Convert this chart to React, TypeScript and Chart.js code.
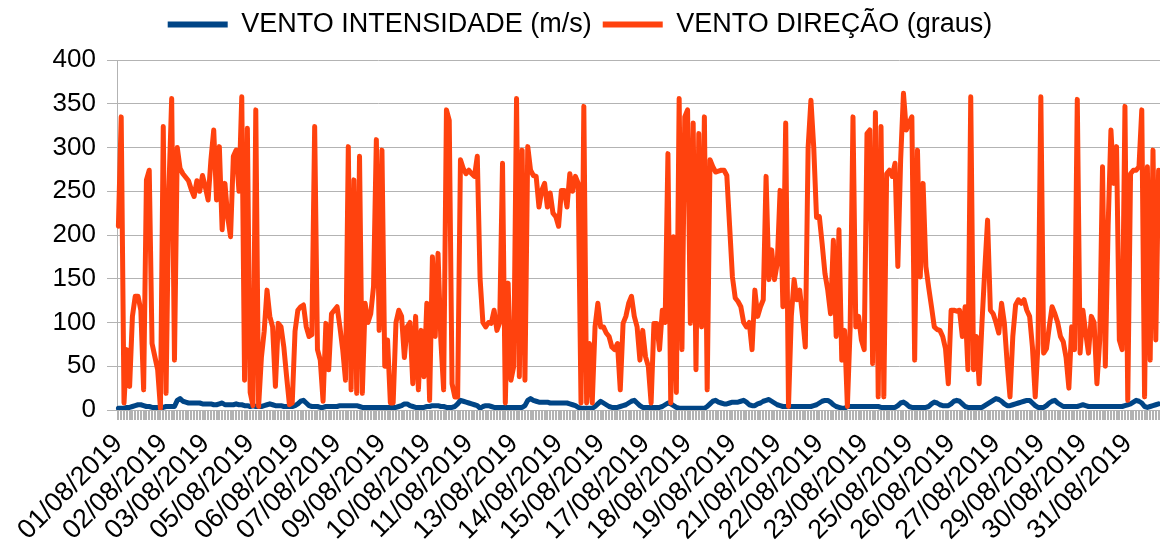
import React, { useEffect, useRef } from 'react';
import { Chart, registerables } from 'chart.js';

Chart.register(...registerables);

const DAYS = ['01', '02', '03', '04', '05', '06', '07', '08', '09', '10', '11', '12', '13', '14', '15', '16',
  '17', '18', '19', '20', '21', '22', '23', '24', '25', '26', '27', '28', '29', '30', '31'];
const HOURS = ['00:00', '02:00', '04:00', '06:00', '08:00', '10:00', '12:00', '14:00', '16:00', '18:00', '20:00', '22:00'];
const CATEGORIES: string[] = DAYS.flatMap((d) => HOURS.map((h) => `${d}/08/2019 ${h}`));

// Axis labels as printed under the axis
const TICK_LABELS = ['01/08/2019', '02/08/2019', '03/08/2019', '05/08/2019', '06/08/2019', '07/08/2019',
  '09/08/2019', '10/08/2019', '11/08/2019', '13/08/2019', '14/08/2019', '15/08/2019', '17/08/2019',
  '18/08/2019', '19/08/2019', '21/08/2019', '22/08/2019', '23/08/2019', '25/08/2019', '26/08/2019',
  '27/08/2019', '29/08/2019', '30/08/2019', '31/08/2019'];
const LABEL_STEP = 15.65; // categories between printed labels
const Y_TICKS = [0, 50, 100, 150, 200, 250, 300, 350, 400];

// VENTO INTENSIDADE (m/s) - one row per day, every 2 hours
const VENTO_INTENSIDADE = [
  2, 2, 2, 3, 3, 4, 5, 6, 6, 5, 4, 4,
  3, 3, 3, 3, 3, 4, 4, 4, 4, 11, 13, 10,
  9, 8, 8, 8, 8, 8, 7, 7, 7, 7, 6, 6,
  7, 8, 6, 6, 6, 6, 7, 6, 6, 5, 5, 4,
  5, 4, 4, 4, 5, 6, 7, 6, 5, 5, 5, 4,
  4, 4, 4, 5, 7, 10, 11, 8, 5, 4, 4, 4,
  3, 3, 4, 4, 4, 4, 4, 5, 5, 5, 5, 5,
  5, 5, 4, 3, 3, 3, 3, 3, 3, 3, 3, 3,
  3, 3, 3, 3, 4, 5, 7, 7, 5, 4, 3, 3,
  3, 3, 4, 4, 5, 5, 5, 4, 4, 3, 3, 3,
  4, 7, 11, 10, 9, 8, 7, 6, 5, 2, 4, 5,
  5, 4, 3, 3, 3, 3, 3, 3, 3, 3, 3, 3,
  3, 5, 11, 13, 11, 10, 9, 9, 9, 9, 8, 8,
  8, 8, 8, 8, 8, 7, 6, 5, 3, 2, 2, 2,
  2, 2, 4, 7, 10, 8, 6, 4, 3, 3, 3, 4,
  5, 6, 8, 10, 11, 8, 5, 3, 3, 3, 3, 3,
  3, 3, 4, 6, 8, 7, 5, 3, 2, 2, 2, 2,
  2, 2, 2, 2, 2, 2, 4, 7, 10, 11, 9, 8,
  7, 7, 8, 9, 9, 9, 10, 11, 9, 6, 5, 5,
  7, 8, 10, 11, 12, 10, 8, 6, 5, 4, 4, 4,
  4, 4, 4, 4, 4, 4, 4, 4, 5, 6, 8, 10,
  11, 11, 9, 6, 4, 3, 2, 2, 4, 4, 4, 4,
  4, 4, 4, 4, 4, 4, 4, 4, 3, 3, 3, 3,
  3, 3, 5, 8, 9, 7, 4, 3, 3, 3, 3, 3,
  3, 4, 7, 9, 8, 6, 5, 5, 5, 7, 10, 11,
  10, 7, 4, 3, 3, 3, 3, 3, 3, 5, 7, 9,
  11, 13, 12, 10, 7, 5, 5, 6, 7, 8, 9, 10,
  11, 11, 8, 5, 3, 3, 3, 5, 8, 10, 11, 8,
  6, 4, 4, 4, 4, 4, 4, 5, 6, 5, 4, 4,
  4, 4, 4, 4, 4, 4, 4, 4, 4, 4, 4, 5,
  6, 7, 9, 11, 10, 8, 4, 3, 4, 5, 6, 7,
];

// VENTO DIREÇÃO (graus) - one row per day, every 2 hours
const VENTO_DIRECAO = [
  210, 335, 8, 69, 27, 107, 130, 130, 114, 23, 263, 274,
  76, 61, 46, 2, 324, 19, 251, 356, 57, 300, 276, 270,
  266, 262, 252, 244, 262, 250, 268, 255, 240, 286, 320, 240,
  301, 206, 259, 220, 198, 290, 297, 250, 358, 34, 322, 20,
  5, 343, 4, 60, 90, 137, 107, 95, 27, 99, 95, 72,
  38, 6, 8, 90, 114, 118, 120, 95, 84, 86, 324, 69,
  57, 10, 99, 46, 110, 114, 118, 95, 69, 34, 301, 23,
  263, 19, 290, 19, 122, 100, 110, 141, 309, 91, 297, 50,
  80, 8, 8, 100, 114, 107, 60, 95, 100, 30, 107, 23,
  91, 38, 122, 11, 175, 84, 179, 80, 23, 343, 331, 30,
  15, 15, 286, 276, 270, 274, 270, 267, 290, 150, 100, 95,
  100, 99, 114, 91, 100, 282, 8, 145, 34, 50, 356, 38,
  297, 34, 301, 274, 268, 267, 232, 251, 259, 232, 248, 225,
  221, 210, 251, 251, 232, 270, 250, 267, 259, 8, 347, 8,
  76, 8, 95, 122, 95, 95, 88, 84, 72, 69, 76, 23,
  99, 107, 122, 130, 107, 95, 57, 91, 61, 50, 8, 99,
  99, 69, 114, 100, 293, 8, 198, 20, 356, 69, 335, 343,
  99, 328, 46, 316, 95, 335, 23, 286, 278, 272, 273, 274,
  274, 268, 210, 152, 128, 124, 118, 100, 95, 100, 69, 137,
  107, 118, 126, 267, 149, 183, 149, 168, 251, 118, 328, 4,
  107, 149, 126, 137, 107, 72, 300, 354, 300, 220, 221, 190,
  156, 137, 110, 194, 84, 206, 57, 91, 4, 95, 335, 95,
  107, 80, 69, 316, 320, 53, 340, 15, 324, 15, 270, 274,
  267, 282, 164, 286, 362, 320, 328, 335, 57, 297, 152, 259,
  164, 140, 118, 95, 92, 91, 84, 70, 30, 114, 114, 113,
  114, 84, 118, 46, 358, 46, 84, 30, 99, 160, 217, 114,
  110, 100, 88, 122, 99, 53, 15, 84, 120, 126, 122, 126,
  114, 107, 72, 15, 76, 358, 65, 70, 95, 118, 110, 100,
  84, 78, 60, 25, 95, 69, 355, 65, 114, 88, 65, 107,
  100, 30, 80, 278, 50, 210, 320, 259, 301, 80, 69, 347,
  11, 270, 274, 274, 278, 343, 15, 278, 57, 297, 80, 274,
];

const BLUE = '#004586';
const ORANGE = '#ff420e';
const GRID = '#b3b3b3';
const FONT = '"Liberation Sans", Arial, sans-serif';

export default function App() {
  const ref = useRef<HTMLCanvasElement>(null);

  useEffect(() => {
    document.body.style.margin = '0';
    const canvas = ref.current;
    if (!canvas) return;

    const labelAt = new Map<number, string>(
      TICK_LABELS.map((t, j) => [Math.round(j * LABEL_STEP), t] as [number, string]),
    );

    const legendHeight = {
      id: 'legendHeight',
      beforeInit(chart: any) {
        const legend = chart.legend;
        if (!legend) return;
        const fit = legend.fit;
        legend.fit = function () {
          fit.call(this);
          this.height = 60;
        };
      },
    };

    const chart = new Chart(canvas, {
      type: 'line',
      data: {
        labels: CATEGORIES,
        datasets: [
          {
            label: 'VENTO INTENSIDADE (m/s)',
            data: VENTO_INTENSIDADE,
            borderColor: BLUE,
            backgroundColor: BLUE,
            borderWidth: 5,
            pointRadius: 0,
            tension: 0,
            borderJoinStyle: 'round',
            borderCapStyle: 'round',
            order: 1,
          },
          {
            label: 'VENTO DIREÇÃO (graus)',
            data: VENTO_DIRECAO,
            borderColor: ORANGE,
            backgroundColor: ORANGE,
            borderWidth: 5,
            pointRadius: 0,
            tension: 0,
            borderJoinStyle: 'round',
            borderCapStyle: 'round',
            order: 0,
          },
        ],
      },
      options: {
        responsive: false,
        animation: false,
        layout: { padding: 0 },
        plugins: {
          legend: {
            position: 'top',
            labels: {
              font: { family: FONT, size: 27 },
              color: '#000',
              boxWidth: 60,
              boxHeight: 6,
              padding: 11,
              sort: (a: any, b: any) => a.datasetIndex - b.datasetIndex,
              generateLabels: (c: any) =>
                (Chart.defaults.plugins.legend.labels as any)
                  .generateLabels(c)
                  .map((l: any) => ({ ...l, lineWidth: 0 })),
            },
          },
          tooltip: { enabled: false },
        },
        scales: {
          x: {
            type: 'category',
            offset: true,
            grid: {
              drawOnChartArea: false,
              drawTicks: true,
              tickLength: 10,
              color: GRID,
              lineWidth: 2,
              offset: false,
            },
            border: { color: GRID },
            ticks: {
              autoSkip: false,
              minRotation: 45,
              maxRotation: 45,
              padding: 8,
              color: '#000',
              font: { family: FONT, size: 27 },
              callback: (_v: any, i: number) => labelAt.get(i) ?? '',
            },
            afterFit: (s: any) => {
              s.height = 138;
              s.paddingLeft = 0;
              s.paddingRight = 0;
            },
          },
          y: {
            min: 0,
            max: 400,
            afterBuildTicks: (s: any) => {
              s.ticks = Y_TICKS.map((v) => ({ value: v }));
            },
            grid: { color: GRID, tickLength: 10 },
            border: { color: GRID },
            ticks: {
              padding: 11,
              color: '#000',
              font: { family: FONT, size: 26 },
            },
            afterFit: (s: any) => {
              s.width = 117;
            },
          },
        },
      },
      plugins: [legendHeight],
    } as any);

    return () => chart.destroy();
  }, []);

  return <canvas ref={ref} width={1160} height={548} style={{ display: 'block' }} />;
}
